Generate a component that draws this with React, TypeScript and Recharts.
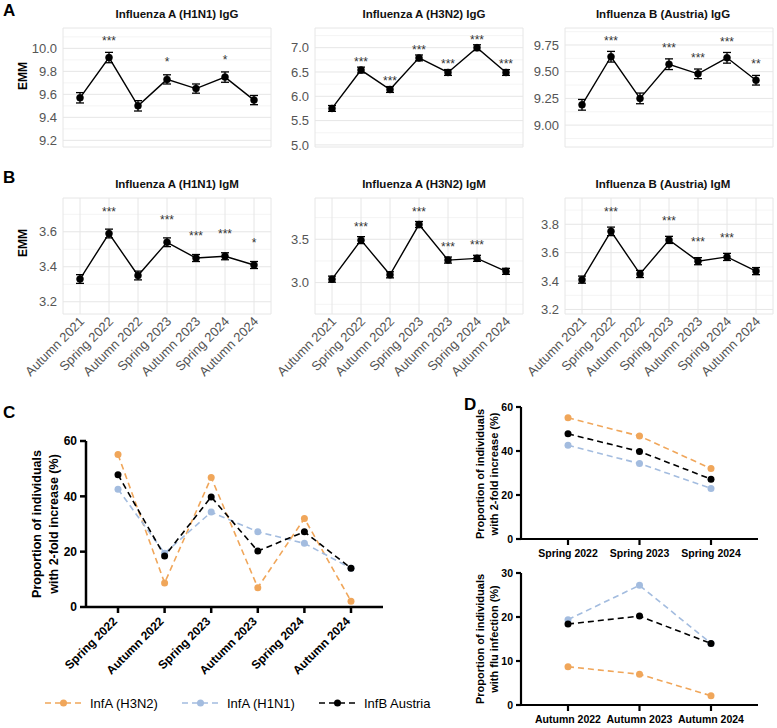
import React from "react";
import {
  LineChart,
  Line,
  XAxis,
  YAxis,
  CartesianGrid,
  ErrorBar,
  LabelList,
} from "recharts";

const FONT = '"Liberation Sans", Arial, Helvetica, sans-serif';

// sampling rounds used by the EMM panels (A, B)
const TIMEPOINTS = [
  "Autumn 2021",
  "Spring 2022",
  "Autumn 2022",
  "Spring 2023",
  "Autumn 2023",
  "Spring 2024",
  "Autumn 2024",
];

// A: IgG estimated marginal means, error and significance vs. Autumn 2021
const H1N1_IGG = [9.57, 9.92, 9.5, 9.73, 9.65, 9.75, 9.55];
const H1N1_IGG_ERR = [0.045, 0.045, 0.045, 0.04, 0.04, 0.045, 0.04];
const H1N1_IGG_SIG = ["", "***", "", "*", "", "*", ""];

const H3N2_IGG = [5.75, 6.54, 6.14, 6.79, 6.49, 7.0, 6.49];
const H3N2_IGG_ERR = [0.06, 0.06, 0.06, 0.06, 0.06, 0.06, 0.06];
const H3N2_IGG_SIG = ["", "***", "***", "***", "***", "***", "***"];

const INFB_IGG = [9.19, 9.64, 9.25, 9.57, 9.48, 9.63, 9.42];
const INFB_IGG_ERR = [0.05, 0.05, 0.05, 0.05, 0.045, 0.05, 0.045];
const INFB_IGG_SIG = ["", "***", "", "***", "***", "***", "**"];

// B: IgM
const H1N1_IGM = [3.33, 3.59, 3.35, 3.54, 3.45, 3.46, 3.41];
const H1N1_IGM_ERR = [0.025, 0.025, 0.025, 0.025, 0.02, 0.02, 0.02];
const H1N1_IGM_SIG = ["", "***", "", "***", "***", "***", "*"];

const H3N2_IGM = [3.04, 3.49, 3.09, 3.67, 3.26, 3.28, 3.13];
const H3N2_IGM_ERR = [0.035, 0.04, 0.035, 0.035, 0.035, 0.035, 0.035];
const H3N2_IGM_SIG = ["", "***", "", "***", "***", "***", ""];

const INFB_IGM = [3.41, 3.75, 3.45, 3.69, 3.54, 3.57, 3.47];
const INFB_IGM_ERR = [0.025, 0.03, 0.025, 0.025, 0.025, 0.025, 0.025];
const INFB_IGM_SIG = ["", "***", "", "***", "***", "***", ""];

// y scales of the EMM panels
const H1N1_IGG_DOMAIN = [9.142, 10.177];
const H1N1_IGG_TICKS = [9.2, 9.4, 9.6, 9.8, 10.0];
const H3N2_IGG_DOMAIN = [4.957, 7.405];
const H3N2_IGG_TICKS = [5.0, 5.5, 6.0, 6.5, 7.0];
const INFB_IGG_DOMAIN = [8.795, 9.909];
const INFB_IGG_TICKS = [9.0, 9.25, 9.5, 9.75];
const H1N1_IGM_DOMAIN = [3.13, 3.793];
const H1N1_IGM_TICKS = [3.2, 3.4, 3.6];
const H3N2_IGM_DOMAIN = [2.638, 3.976];
const H3N2_IGM_TICKS = [3.0, 3.5];
const INFB_IGM_DOMAIN = [3.168, 3.985];
const INFB_IGM_TICKS = [3.2, 3.4, 3.6, 3.8];

// C / D: proportion of individuals (%)
const SPRING_ROUNDS = ["Spring 2022", "Spring 2023", "Spring 2024"];
const AUTUMN_ROUNDS = ["Autumn 2022", "Autumn 2023", "Autumn 2024"];

const H3N2_SPRING = [55.1, 46.8, 32.0];
const H1N1_SPRING = [42.6, 34.3, 23.0];
const INFB_SPRING = [47.8, 39.8, 27.2];

const H3N2_AUTUMN = [8.7, 7.0, 2.1];
const H1N1_AUTUMN = [19.4, 27.2, 14.0];
const INFB_AUTUMN = [18.4, 20.2, 14.0];

const FOLD_TICKS = [0, 20, 40, 60];
const INFECTION_TICKS = [0, 10, 20, 30];

const SERIES = [
  { key: "h3n2", name: "InfA (H3N2)", color: "#F0A65A" },
  { key: "h1n1", name: "InfA (H1N1)", color: "#A3BCDF" },
  { key: "infb", name: "InfB Austria", color: "#000000" },
];

const DASH = "6 4";

function buildRounds(labels: string[], h3n2: number[], h1n1: number[], infb: number[]) {
  return labels.map((round, i) => ({ round, h3n2: h3n2[i], h1n1: h1n1[i], infb: infb[i] }));
}

const springRows = buildRounds(SPRING_ROUNDS, H3N2_SPRING, H1N1_SPRING, INFB_SPRING);
const autumnRows = buildRounds(AUTUMN_ROUNDS, H3N2_AUTUMN, H1N1_AUTUMN, INFB_AUTUMN);
// panel C alternates spring and autumn rounds
const combinedRows = springRows.flatMap((row, i) => [row, autumnRows[i]]);

function minorTicks(ticks: number[], domain: number[]) {
  const step = ticks[1] - ticks[0];
  const out: number[] = [];
  for (let v = ticks[0] - step / 2; v <= domain[1]; v += step) {
    if (v >= domain[0]) out.push(v);
  }
  return out;
}

// the grid generator may hand us either a plain d3 scale or a wrapper with .map()
function toPixel(scale: any) {
  if (typeof scale === "function") return (v: number) => scale(v);
  if (scale && typeof scale.map === "function") return (v: number) => scale.map(v);
  return null;
}

function SlantTick({ x, y, payload }: any) {
  return (
    <g transform={`translate(${x + 2},${y - 3})`}>
      <text
        x={0}
        y={0}
        dy="0.35em"
        textAnchor="end"
        transform="rotate(-45)"
        fill="#555"
        fontSize={13}
        fontFamily={FONT}
      >
        {payload.value}
      </text>
    </g>
  );
}

function BoldSlantTick({ x, y, payload }: any) {
  return (
    <g transform={`translate(${x - 3},${y + 4})`}>
      <text
        x={0}
        y={0}
        dy="0.35em"
        textAnchor="end"
        transform="rotate(-45)"
        fill="#000"
        fontSize={12}
        fontWeight={700}
        fontFamily={FONT}
      >
        {payload.value}
      </text>
    </g>
  );
}

type EmmProps = {
  values: number[];
  errors: number[];
  sigs: string[];
  left: number;
  top: number;
  width: number;
  height: number;
  domain: number[];
  ticks: number[];
  decimals: number;
  starGap: number;
  slanted?: boolean;
};

function EmmPanel({
  values,
  errors,
  sigs,
  left,
  top,
  width,
  height,
  domain,
  ticks,
  decimals,
  starGap,
  slanted,
}: EmmProps) {
  const rows = TIMEPOINTS.map((time, i) => ({
    time,
    emm: values[i],
    err: errors[i],
    sig: sigs[i],
  }));
  const axisW = 45;
  const padTop = 5;
  const xH = slanted ? 70 : 0;
  const padBottom = slanted ? 0 : 10;
  const minors = minorTicks(ticks, domain);

  return (
    <div style={{ position: "absolute", left: left - axisW, top: top - padTop }}>
      <LineChart
        width={width + axisW + 5}
        height={height + padTop + xH + padBottom}
        data={rows}
        margin={{ top: padTop, right: 5, bottom: padBottom, left: 0 }}
      >
        <CartesianGrid
          vertical={false}
          stroke="#f1f1f1"
          strokeWidth={0.8}
          horizontalCoordinatesGenerator={(p: any) => {
            const f = toPixel(p?.yAxis?.scale);
            return f ? minors.map(f).filter((v) => Number.isFinite(v)) : [];
          }}
        />
        <CartesianGrid stroke="#e6e6e6" strokeWidth={1} />
        <XAxis
          dataKey="time"
          interval={0}
          padding={{ left: 17, right: 17 }}
          axisLine={false}
          tickLine={false}
          height={xH}
          tick={slanted ? <SlantTick /> : false}
        />
        <YAxis
          width={axisW}
          domain={domain}
          ticks={ticks}
          allowDataOverflow
          interval={0}
          axisLine={false}
          tickLine={false}
          tickSize={4}
          tickMargin={2}
          tickFormatter={(v: number) => v.toFixed(decimals)}
          tick={{ fill: "#555", fontSize: 13, fontFamily: FONT }}
        />
        <Line
          dataKey="emm"
          stroke="#000"
          strokeWidth={1.4}
          dot={{ r: 3.5, fill: "#000", stroke: "#000", strokeWidth: 0.5 }}
          isAnimationActive={false}
        >
          <ErrorBar dataKey="err" width={4} stroke="#000" strokeWidth={1.3} direction="y" />
          <LabelList
            dataKey="sig"
            content={(p: any) =>
              p.value ? (
                <text
                  x={p.x}
                  y={p.y - starGap + 6}
                  textAnchor="middle"
                  fontSize={12}
                  fill="#333"
                  fontFamily={FONT}
                >
                  {p.value}
                </text>
              ) : null
            }
          />
        </Line>
      </LineChart>
    </div>
  );
}

type PropProps = {
  rows: any[];
  left: number;
  top: number;
  width: number;
  height: number;
  ticks: number[];
  pad: number;
  xH: number;
  slanted?: boolean;
  axisStroke: number;
  fontSize: number;
};

function ProportionPanel({ rows, left, top, width, height, ticks, pad, xH, slanted, axisStroke, fontSize }: PropProps) {
  const axisW = 45;
  const padTop = 10;
  const tickFont = { fill: "#000", fontSize, fontWeight: 700, fontFamily: FONT };
  return (
    <div style={{ position: "absolute", left: left - axisW, top: top - padTop }}>
      <LineChart
        width={width + axisW + 10}
        height={height + padTop + xH}
        data={rows}
        margin={{ top: padTop, right: 10, bottom: 0, left: 0 }}
      >
        <XAxis
          dataKey="round"
          interval={0}
          padding={{ left: pad, right: pad }}
          height={xH}
          axisLine={{ stroke: "#000", strokeWidth: axisStroke }}
          tickLine={{ stroke: "#000", strokeWidth: axisStroke }}
          tickSize={6}
          tickMargin={slanted ? 2 : 5}
          tick={slanted ? <BoldSlantTick /> : tickFont}
        />
        <YAxis
          width={axisW}
          domain={[ticks[0], ticks[ticks.length - 1]]}
          ticks={ticks}
          interval={0}
          axisLine={{ stroke: "#000", strokeWidth: axisStroke }}
          tickLine={{ stroke: "#000", strokeWidth: axisStroke }}
          tickSize={slanted ? 6 : 5}
          tickMargin={3}
          tick={tickFont}
        />
        {SERIES.map((s) => (
          <Line
            key={s.key}
            dataKey={s.key}
            name={s.name}
            stroke={s.color}
            strokeWidth={1.6}
            strokeDasharray={DASH}
            dot={{ r: 3.5, fill: s.color, stroke: "none" }}
            isAnimationActive={false}
          />
        ))}
      </LineChart>
    </div>
  );
}

function RotatedTitle({ x, y, lines, size, gap }: { x: number; y: number; lines: string[]; size: number; gap?: number }) {
  const step = gap ?? size * 1.35;
  return (
    <g transform={`translate(${x},${y}) rotate(-90)`}>
      {lines.map((line, i) => (
        <text
          key={line}
          x={0}
          y={(i - (lines.length - 1) / 2) * step}
          dy="0.35em"
          textAnchor="middle"
          fontSize={size}
          fontWeight={700}
          fill="#000"
          fontFamily={FONT}
        >
          {line}
        </text>
      ))}
    </g>
  );
}

function Annotations() {
  const titleStyle = { fontSize: 11.5, fontWeight: 700, fill: "#111", fontFamily: FONT };
  const letter = { fontSize: 17, fontWeight: 700, fill: "#000", fontFamily: FONT };
  return (
    <svg
      width={777}
      height={728}
      style={{ position: "absolute", left: 0, top: 0, pointerEvents: "none" }}
    >
      <text x={3} y={16} {...letter}>A</text>
      <text x={3} y={183} {...letter}>B</text>
      <text x={3} y={418} {...letter}>C</text>
      <text x={464} y={410} {...letter}>D</text>

      <text x={177} y={18} textAnchor="middle" {...titleStyle}>Influenza A (H1N1) IgG</text>
      <text x={424} y={18} textAnchor="middle" {...titleStyle}>Influenza A (H3N2) IgG</text>
      <text x={663} y={18} textAnchor="middle" {...titleStyle}>Influenza B (Austria) IgG</text>
      <text x={177} y={188} textAnchor="middle" {...titleStyle}>Influenza A (H1N1) IgM</text>
      <text x={424} y={188} textAnchor="middle" {...titleStyle}>Influenza A (H3N2) IgM</text>
      <text x={663} y={188} textAnchor="middle" {...titleStyle}>Influenza B (Austria) IgM</text>

      <RotatedTitle x={23} y={76} lines={["EMM"]} size={12} />
      <RotatedTitle x={23} y={243} lines={["EMM"]} size={12} />

      <RotatedTitle
        x={45.5}
        y={524}
        lines={["Proportion of individuals", "with 2-fold increase (%)"]}
        size={12.5}
      />
      <RotatedTitle
        x={487}
        y={474}
        lines={["Proportion of individuals", "with 2-fold increase (%)"]}
        size={11}
        gap={13.5}
      />
      <RotatedTitle
        x={487}
        y={639}
        lines={["Proportion of individuals", "with flu infection (%)"]}
        size={11}
        gap={13.5}
      />

      {SERIES.map((s, i) => {
        const x0 = 45 + i * 137;
        return (
          <g key={s.key}>
            <line
              x1={x0}
              y1={703}
              x2={x0 + 37}
              y2={703}
              stroke={s.color}
              strokeWidth={1.6}
              strokeDasharray={DASH}
            />
            <circle cx={x0 + 18.5} cy={703} r={3.5} fill={s.color} />
            <text x={x0 + 45} y={707.5} fontSize={13} fill="#000" fontFamily={FONT}>
              {s.name}
            </text>
          </g>
        );
      })}
    </svg>
  );
}

export default function App() {
  return (
    <div
      style={{
        position: "absolute",
        left: 0,
        top: 0,
        width: 777,
        height: 728,
        background: "#fff",
        overflow: "hidden",
      }}
    >
      <EmmPanel values={H1N1_IGG} errors={H1N1_IGG_ERR} sigs={H1N1_IGG_SIG} left={63} top={28} width={208} height={119} domain={H1N1_IGG_DOMAIN} ticks={H1N1_IGG_TICKS} decimals={1} starGap={19} />
      <EmmPanel values={H3N2_IGG} errors={H3N2_IGG_ERR} sigs={H3N2_IGG_SIG} left={315} top={28} width={208} height={119} domain={H3N2_IGG_DOMAIN} ticks={H3N2_IGG_TICKS} decimals={1} starGap={10} />
      <EmmPanel values={INFB_IGG} errors={INFB_IGG_ERR} sigs={INFB_IGG_SIG} left={565} top={28} width={208} height={119} domain={INFB_IGG_DOMAIN} ticks={INFB_IGG_TICKS} decimals={2} starGap={18} />

      <EmmPanel values={H1N1_IGM} errors={H1N1_IGM_ERR} sigs={H1N1_IGM_SIG} left={63} top={198} width={208} height={116} domain={H1N1_IGM_DOMAIN} ticks={H1N1_IGM_TICKS} decimals={1} starGap={24} slanted />
      <EmmPanel values={H3N2_IGM} errors={H3N2_IGM_ERR} sigs={H3N2_IGM_SIG} left={315} top={198} width={208} height={116} domain={H3N2_IGM_DOMAIN} ticks={H3N2_IGM_TICKS} decimals={1} starGap={15} slanted />
      <EmmPanel values={INFB_IGM} errors={INFB_IGM_ERR} sigs={INFB_IGM_SIG} left={565} top={198} width={208} height={116} domain={INFB_IGM_DOMAIN} ticks={INFB_IGM_TICKS} decimals={1} starGap={21} slanted />

      <ProportionPanel rows={combinedRows} left={86} top={441} width={297} height={166} ticks={FOLD_TICKS} pad={32} xH={95} slanted axisStroke={2.5} fontSize={12} />
      <ProportionPanel rows={springRows} left={521} top={407} width={237} height={132} ticks={FOLD_TICKS} pad={47} xH={28} axisStroke={2.2} fontSize={10.5} />
      <ProportionPanel rows={autumnRows} left={521} top={573} width={237} height={132} ticks={INFECTION_TICKS} pad={47} xH={28} axisStroke={2.2} fontSize={10.5} />

      <Annotations />
    </div>
  );
}
